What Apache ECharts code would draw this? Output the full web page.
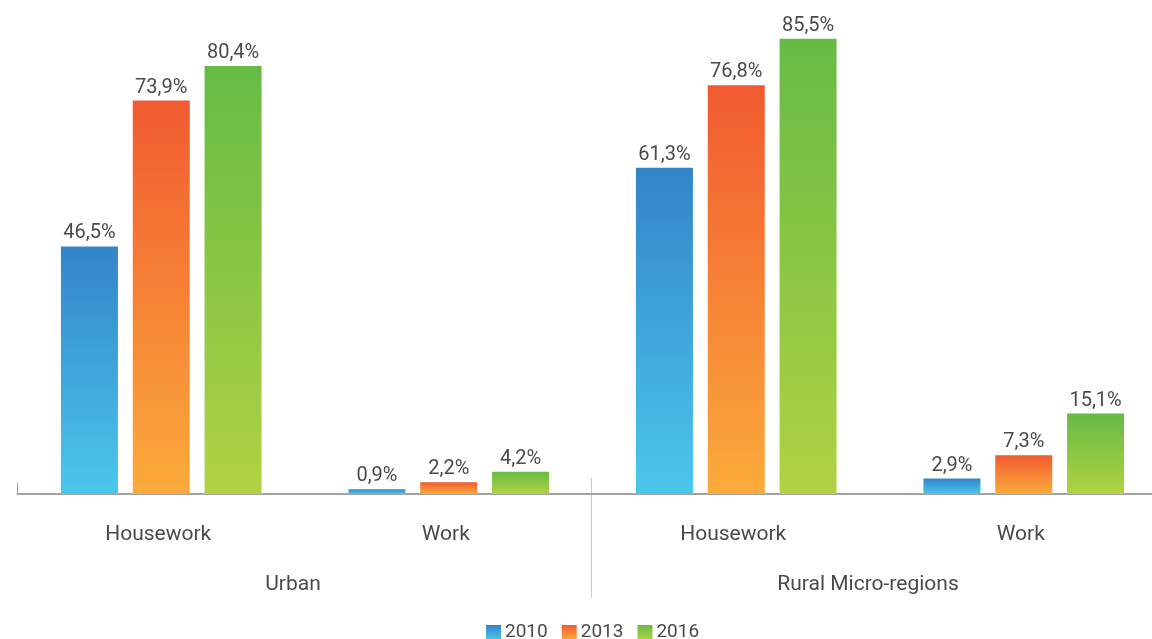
<!DOCTYPE html>
<html>
<head>
<meta charset="utf-8">
<script src="https://cdn.jsdelivr.net/npm/echarts@6/dist/echarts.min.js"></script>
<style>
html,body{margin:0;padding:0;background:#fff;}
#c{width:1152px;height:639px;}
</style>
</head>
<body>
<div id="c"></div>
<script>
const categories = ['Housework', 'Work', 'Housework', 'Work'];
const groups = ['Urban', 'Rural Micro-regions'];
const years = ['2010', '2013', '2016'];
const values2010 = [46.5, 0.9, 61.3, 2.9];
const values2013 = [73.9, 2.2, 76.8, 7.3];
const values2016 = [80.4, 4.2, 85.5, 15.1];

const gradients = [
  ['#3384c9', '#4bc7ec'],
  ['#f15a30', '#fbab3b'],
  ['#66bb45', '#b1d242']
];
const seriesValues = [values2010, values2013, values2016];
const FONT = 'Roboto';
const TXT = '#4a4a4a';

const chart = echarts.init(document.getElementById('c'), null, {renderer: 'canvas'});

const series = years.map((y, i) => ({
  name: y,
  type: 'bar',
  xAxisIndex: 0,
  yAxisIndex: 0,
  data: seriesValues[i],
  barWidth: 57,
  barGap: '26%',
  itemStyle: {
    color: {
      type: 'linear', x: 0, y: 0, x2: 0, y2: 1,
      colorStops: [{offset: 0, color: gradients[i][0]}, {offset: 1, color: gradients[i][1]}]
    }
  },
  label: {
    show: true,
    position: 'top',
    distance: 3,
    color: TXT,
    fontFamily: FONT,
    fontSize: 20,
    formatter: p => p.value.toFixed(1).replace('.', ',') + '%'
  }
}));

chart.setOption({
  animation: false,
  backgroundColor: '#fff',
  legend: {
    data: years,
    left: 481,
    top: 618,
    itemWidth: 15,
    itemHeight: 15,
    itemGap: 14,
    icon: 'rect',
    textStyle: {color: TXT, fontFamily: FONT, fontSize: 19, padding: [0, 0, 0, -1]}
  },
  grid: [
    {left: 17.5, width: 1150, top: 0, bottom: 145, outerBoundsMode: 'none', containLabel: false},
    {left: 15, width: 1152, top: 478, height: 120, outerBoundsMode: 'none', containLabel: false}
  ],
  xAxis: [
    {
      type: 'category', gridIndex: 0, position: 'bottom',
      data: categories,
      axisLine: {show: true, lineStyle: {color: '#a3a3a3', width: 2}},
      axisTick: {show: true, inside: true, length: 11, interval: (i) => i === 0, lineStyle: {color: '#a3a3a3', width: 1}},
      axisLabel: {color: TXT, fontFamily: FONT, fontSize: 21, margin: 30, interval: 0, padding: [0, 6, 0, 0]}
    },
    {
      type: 'category', gridIndex: 0, position: 'bottom',
      data: groups,
      axisLine: {show: false},
      axisTick: {show: false},
      axisLabel: {color: TXT, fontFamily: FONT, fontSize: 21, margin: 80, interval: 0, padding: [0, 24, 0, 0]}
    },
    {
      type: 'value', gridIndex: 1, min: 0, max: 2, interval: 1,
      axisLine: {show: false}, axisTick: {show: false}, axisLabel: {show: false},
      splitLine: {show: true, showMinLine: false, showMaxLine: false, lineStyle: {color: '#c8c8c8', width: 1}}
    }
  ],
  yAxis: [
    {type: 'value', gridIndex: 0, min: 0, max: 92.8, show: false, splitLine: {show: false}},
    {type: 'value', gridIndex: 1, min: 0, max: 1, show: false, splitLine: {show: false}}
  ],
  series: series
});
</script>
</body>
</html>
